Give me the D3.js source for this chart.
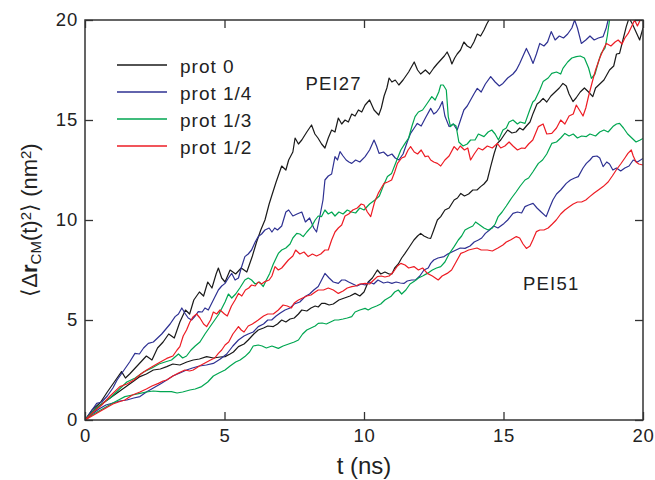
<!DOCTYPE html>
<html>
<head>
<meta charset="utf-8">
<script src="https://cdn.jsdelivr.net/npm/d3@7"></script>
<style>
  body { margin: 0; background: #fff; }
  svg text { font-family: "Liberation Sans", Arial, Helvetica, sans-serif; fill: #222; }
</style>
</head>
<body>
<div id="chart"></div>
<script>
// tick labels
const xTicks = [0, 5, 10, 15, 20];
const yTicks = [0, 5, 10, 15, 20];

// legend entries
const protLabels = ["prot 0", "prot 1/4", "prot 1/3", "prot 1/2"];
const protColors = ["#1a1a1a", "#2e3192", "#00a651", "#ed1c24"];

// [t (ns), <dr^2> (nm^2)], PEI27 group
const black27 = [[0,0],[0.25,0.5],[0.54,0.85],[0.8,1.4],[1.05,1.9],[1.31,2.42],[1.45,2.1],[1.6,2.3],[1.8,2.6],[2.0,2.9],[2.2,3.2],[2.4,3.0],[2.6,3.6],[2.8,3.9],[3.0,4.3],[3.2,4.1],[3.4,4.9],[3.6,5.5],[3.75,5.3],[3.9,6.0],[4.1,6.4],[4.25,6.2],[4.4,6.9],[4.55,6.6],[4.7,7.3],[4.78,7.6],[4.9,7.1],[5.02,6.9],[5.2,7.5],[5.4,7.3],[5.6,7.6],[5.8,7.4],[6.0,8.2],[6.15,8.9],[6.3,9.5],[6.45,10.0],[6.6,10.8],[6.69,11.2],[6.85,11.9],[7.05,12.7],[7.2,12.5],[7.3,13.0],[7.45,13.4],[7.53,14.1],[7.65,13.8],[7.77,14.0],[7.95,14.4],[8.12,14.75],[8.24,14.3],[8.35,14.1],[8.48,13.8],[8.6,13.6],[8.72,14.1],[8.84,14.5],[8.96,14.4],[9.08,15.1],[9.2,14.8],[9.32,15.0],[9.44,14.9],[9.56,15.3],[9.68,15.2],[9.8,15.5],[9.92,15.4],[10.04,15.75],[10.2,16.0],[10.36,15.5],[10.53,15.25],[10.62,15.6],[10.72,16.2],[10.82,16.6],[10.9,17.1],[11.0,16.9],[11.12,17.0],[11.25,16.75],[11.4,17.0],[11.6,17.4],[11.8,17.9],[11.92,17.5],[12.03,17.3],[12.2,17.5],[12.35,17.3],[12.5,17.6],[12.62,17.8],[12.75,18.0],[12.88,18.2],[12.98,18.4],[13.08,18.1],[13.15,17.8],[13.25,18.1],[13.34,18.3],[13.46,18.5],[13.58,18.9],[13.7,18.7],[13.82,18.6],[13.94,18.9],[14.06,19.3],[14.18,19.2],[14.3,19.5],[14.4,19.8],[14.48,20.0],[14.6,20.3]];
const blue27 = [[0,0],[0.2,0.4],[0.42,0.83],[0.6,0.9],[0.8,1.2],[1.0,1.6],[1.15,2.0],[1.3,2.3],[1.45,2.6],[1.6,2.9],[1.79,3.33],[1.95,3.3],[2.1,3.6],[2.27,3.83],[2.45,3.9],[2.6,4.1],[2.75,4.3],[2.87,4.5],[3.05,4.8],[3.23,5.17],[3.35,5.3],[3.47,5.6],[3.6,5.3],[3.7,5.1],[3.82,5.0],[3.95,5.2],[4.06,5.42],[4.2,5.4],[4.3,5.6],[4.42,5.5],[4.6,6.0],[4.78,6.5],[4.9,6.7],[5.02,6.83],[5.14,7.1],[5.26,7.33],[5.38,7.0],[5.5,7.1],[5.6,7.6],[5.73,8.17],[5.85,8.3],[5.97,8.5],[6.1,8.9],[6.21,9.17],[6.33,9.3],[6.45,9.5],[6.6,9.6],[6.7,9.4],[6.8,9.6],[6.9,9.5],[7.05,9.7],[7.2,10.4],[7.3,10.5],[7.45,10.2],[7.6,10.3],[7.77,10.4],[7.9,9.9],[8.05,10.1],[8.2,9.6],[8.3,9.4],[8.42,10.2],[8.53,11.0],[8.6,12.0],[8.72,12.2],[8.84,12.3],[8.96,13.17],[9.05,13.0],[9.14,13.42],[9.25,13.2],[9.36,13.0],[9.46,12.9],[9.56,12.83],[9.7,13.0],[9.85,12.9],[10.04,13.17],[10.2,13.5],[10.36,14.0],[10.45,13.7],[10.54,13.33],[10.7,13.4],[10.85,13.2],[11.0,13.3],[11.12,13.1],[11.25,13.0],[11.4,13.3],[11.55,13.9],[11.67,14.33],[11.8,14.6],[11.91,14.83],[12.05,14.7],[12.2,15.1],[12.39,15.58],[12.5,15.3],[12.6,15.4],[12.7,15.6],[12.81,15.92],[12.9,15.2],[13.05,14.67],[13.2,14.8],[13.34,14.5],[13.46,15.0],[13.58,15.5],[13.7,15.7],[13.82,16.0],[13.94,16.3],[14.06,16.58],[14.2,16.4],[14.35,16.8],[14.54,17.17],[14.7,16.9],[14.85,16.7],[14.98,16.83],[15.15,17.1],[15.34,17.3],[15.46,17.5],[15.58,17.83],[15.7,18.2],[15.82,18.58],[15.95,18.2],[16.06,17.83],[16.18,18.3],[16.3,18.83],[16.45,18.7],[16.58,18.9],[16.71,19.42],[16.85,19.0],[17.0,19.2],[17.15,19.1],[17.3,19.3],[17.45,19.6],[17.55,20.0],[17.65,19.6],[17.79,18.83],[17.95,19.0],[18.1,19.2],[18.25,19.0],[18.4,19.1],[18.57,19.17],[18.68,19.6],[18.75,20.0],[18.85,20.4]];
const green27 = [[0,0],[0.3,0.45],[0.6,0.8],[0.9,1.1],[1.2,1.5],[1.5,1.9],[1.8,2.1],[2.1,2.4],[2.4,2.6],[2.65,2.8],[2.87,2.9],[3.1,3.0],[3.35,3.3],[3.5,3.1],[3.64,3.2],[3.8,3.5],[3.95,3.7],[4.12,3.9],[4.3,4.3],[4.45,4.6],[4.6,4.9],[4.8,5.3],[5.02,5.9],[5.14,6.3],[5.26,6.1],[5.4,6.3],[5.55,6.6],[5.73,7.0],[5.85,7.1],[5.97,7.0],[6.1,6.8],[6.25,6.9],[6.39,6.67],[6.5,7.0],[6.62,7.33],[6.75,7.8],[6.93,8.33],[7.05,8.5],[7.2,8.6],[7.35,8.8],[7.45,9.1],[7.59,9.33],[7.7,9.3],[7.82,9.17],[7.95,9.4],[8.12,9.67],[8.25,10.0],[8.36,10.2],[8.48,10.17],[8.6,10.5],[8.72,10.3],[8.84,10.4],[8.96,10.2],[9.1,10.4],[9.25,10.3],[9.4,10.5],[9.55,10.4],[9.7,10.35],[9.85,10.6],[10.0,10.5],[10.2,10.8],[10.39,11.0],[10.55,11.2],[10.72,11.8],[10.84,12.17],[10.99,12.33],[11.15,12.9],[11.32,13.5],[11.47,13.83],[11.6,14.1],[11.72,14.7],[11.83,15.17],[11.95,15.4],[12.1,15.5],[12.25,15.8],[12.43,16.17],[12.55,16.0],[12.68,16.4],[12.75,16.75],[12.84,16.75],[12.95,16.5],[13.02,15.17],[13.1,14.67],[13.2,14.8],[13.3,14.7],[13.4,13.9],[13.55,13.7],[13.7,13.8],[13.82,14.0],[13.98,14.0],[14.1,14.3],[14.3,14.17],[14.45,14.4],[14.58,14.5],[14.7,14.3],[14.82,14.0],[14.98,14.5],[15.1,14.6],[15.2,14.9],[15.34,15.0],[15.5,14.8],[15.6,14.9],[15.77,14.83],[15.94,15.5],[16.05,15.9],[16.13,16.0],[16.3,16.5],[16.42,16.92],[16.6,17.1],[16.73,17.33],[16.9,17.4],[17.05,17.3],[17.13,17.58],[17.3,17.9],[17.45,18.1],[17.61,18.17],[17.75,18.2],[17.9,18.1],[18.05,17.6],[18.15,17.08],[18.28,17.3],[18.4,17.9],[18.5,18.33],[18.64,18.6],[18.72,19.2],[18.8,20.0],[18.9,20.5]];
const red27 = [[0,0],[0.3,0.4],[0.6,0.75],[0.9,1.2],[1.25,1.67],[1.5,1.8],[1.75,2.0],[2.0,2.3],[2.21,2.5],[2.45,2.7],[2.7,2.9],[2.93,3.08],[3.15,3.2],[3.3,3.5],[3.4,3.67],[3.52,4.2],[3.64,4.5],[3.76,4.9],[3.88,5.17],[4.0,5.3],[4.12,5.1],[4.25,4.8],[4.36,4.67],[4.5,5.0],[4.6,5.4],[4.72,5.3],[4.84,5.5],[5.0,5.3],[5.1,5.2],[5.25,5.7],[5.38,6.0],[5.5,6.33],[5.62,6.2],[5.75,6.5],[5.87,6.6],[5.97,6.75],[6.1,6.7],[6.21,6.9],[6.33,6.8],[6.45,6.92],[6.6,7.0],[6.7,7.2],[6.81,7.67],[6.93,7.5],[7.05,7.6],[7.17,7.8],[7.29,8.0],[7.45,8.2],[7.55,8.5],[7.7,8.3],[7.85,8.4],[8.0,8.17],[8.15,8.3],[8.3,8.2],[8.45,8.3],[8.6,8.5],[8.72,8.5],[8.84,9.0],[8.96,9.4],[9.08,9.6],[9.2,9.75],[9.32,10.2],[9.45,10.3],[9.6,10.5],[9.76,10.6],[9.9,10.8],[10.0,10.75],[10.12,10.4],[10.24,10.17],[10.38,10.9],[10.51,11.33],[10.62,11.6],[10.72,11.83],[10.85,11.9],[10.99,12.0],[11.1,12.4],[11.2,12.83],[11.35,13.1],[11.47,13.17],[11.58,13.5],[11.67,13.67],[11.8,13.4],[11.92,13.3],[12.05,13.5],[12.19,13.17],[12.3,13.2],[12.39,13.0],[12.5,12.9],[12.63,12.83],[12.75,12.7],[12.9,13.0],[13.05,13.2],[13.23,13.67],[13.35,13.5],[13.45,13.7],[13.6,13.5],[13.72,13.6],[13.82,13.0],[13.95,13.3],[14.1,13.6],[14.25,13.5],[14.42,13.7],[14.6,13.6],[14.78,13.83],[14.9,13.6],[15.05,13.7],[15.2,13.9],[15.34,13.7],[15.5,13.5],[15.65,13.6],[15.77,13.58],[15.9,13.8],[16.05,14.0],[16.25,14.67],[16.42,14.8],[16.55,14.3],[16.73,14.33],[16.9,14.6],[17.05,15.0],[17.2,14.8],[17.35,15.2],[17.5,15.3],[17.61,15.75],[17.72,15.5],[17.85,15.2],[17.95,15.6],[18.05,16.2],[18.2,17.0],[18.3,17.5],[18.45,18.1],[18.6,18.6],[18.69,18.83],[18.85,18.7],[19.0,18.9],[19.11,19.0],[19.25,18.8],[19.35,19.1],[19.47,19.33],[19.6,19.7],[19.7,20.0],[19.8,19.7],[19.9,20.0],[20.0,20.2]];

// PEI51 group
const black51 = [[0,0],[0.25,0.4],[0.5,0.7],[0.75,0.95],[1.0,1.2],[1.25,1.45],[1.5,1.7],[1.75,1.95],[1.97,2.17],[2.2,2.3],[2.45,2.5],[2.7,2.55],[2.93,2.67],[3.15,2.8],[3.4,2.75],[3.65,2.9],[3.88,3.0],[4.1,3.05],[4.36,3.17],[4.6,3.1],[4.85,3.15],[5.02,3.17],[5.2,3.3],[5.32,3.4],[5.5,3.67],[5.7,3.8],[5.85,4.0],[6.05,4.3],[6.21,4.5],[6.4,4.6],[6.55,4.7],[6.75,4.67],[6.9,4.8],[7.05,5.0],[7.2,4.9],[7.35,5.05],[7.5,5.1],[7.65,5.3],[7.77,5.5],[7.95,5.45],[8.1,5.6],[8.25,5.7],[8.36,5.65],[8.48,5.83],[8.6,5.83],[8.75,5.75],[8.9,5.8],[9.1,6.0],[9.3,6.1],[9.5,6.2],[9.68,6.33],[9.85,6.2],[10.0,6.4],[10.15,6.9],[10.3,7.1],[10.48,7.5],[10.6,7.3],[10.75,7.4],[10.9,7.3],[11.0,7.3],[11.1,7.6],[11.23,7.8],[11.35,8.1],[11.47,8.33],[11.6,8.6],[11.79,9.0],[11.92,9.2],[12.03,9.33],[12.15,9.2],[12.3,9.1],[12.39,9.08],[12.5,9.5],[12.63,10.0],[12.75,10.17],[12.9,10.5],[13.05,10.6],[13.23,11.0],[13.35,11.1],[13.47,11.33],[13.6,11.2],[13.75,11.3],[13.9,11.5],[14.05,11.5],[14.18,11.67],[14.3,11.8],[14.42,12.0],[14.54,12.67],[14.66,13.3],[14.78,13.83],[14.9,14.0],[15.02,14.25],[15.15,14.5],[15.3,14.35],[15.45,14.4],[15.58,14.6],[15.7,14.5],[15.82,14.7],[15.95,14.9],[16.06,15.33],[16.2,15.8],[16.3,15.9],[16.42,16.08],[16.55,15.9],[16.7,16.2],[16.85,16.4],[17.0,16.6],[17.13,16.83],[17.25,16.7],[17.35,16.3],[17.49,15.92],[17.6,16.1],[17.75,16.4],[17.9,16.6],[18.05,16.4],[18.2,16.17],[18.3,16.6],[18.45,16.8],[18.6,17.0],[18.8,17.5],[18.95,17.7],[19.05,18.3],[19.16,18.33],[19.28,19.0],[19.4,19.67],[19.5,20.1],[19.62,19.8],[19.75,19.4],[19.88,19.0],[20.0,19.6]];
const blue51 = [[0,0],[0.25,0.3],[0.5,0.55],[0.75,0.75],[1.0,0.85],[1.25,0.95],[1.5,1.0],[1.75,1.1],[1.97,1.17],[2.2,1.4],[2.45,1.6],[2.7,1.8],[2.93,2.0],[3.15,2.2],[3.4,2.35],[3.64,2.5],[3.85,2.6],[4.1,2.7],[4.35,2.75],[4.6,2.83],[4.85,3.05],[5.08,3.3],[5.3,3.7],[5.5,4.0],[5.7,4.2],[5.85,4.3],[6.03,4.4],[6.21,4.67],[6.4,4.8],[6.55,5.0],[6.69,5.0],[6.85,5.2],[7.0,5.35],[7.17,5.5],[7.35,5.6],[7.5,5.8],[7.7,5.9],[7.89,6.17],[8.05,6.3],[8.2,6.5],[8.36,6.67],[8.48,7.0],[8.6,7.33],[8.75,7.1],[8.9,6.9],[9.08,6.83],[9.2,7.0],[9.32,7.0],[9.45,6.9],[9.6,6.8],[9.75,6.7],[9.9,6.8],[10.04,6.75],[10.2,6.9],[10.35,6.8],[10.5,7.0],[10.7,6.85],[10.85,6.9],[11.0,6.83],[11.15,6.9],[11.3,6.85],[11.43,6.83],[11.55,6.95],[11.71,7.0],[11.85,7.0],[12.0,7.2],[12.15,7.5],[12.3,7.6],[12.39,7.83],[12.5,8.0],[12.65,8.1],[12.87,8.17],[13.0,8.3],[13.15,8.4],[13.3,8.5],[13.45,8.6],[13.62,8.58],[13.8,8.7],[13.95,8.9],[14.1,9.0],[14.22,9.1],[14.35,9.33],[14.5,9.5],[14.65,9.7],[14.8,9.6],[15.02,9.83],[15.15,10.0],[15.34,10.33],[15.5,10.4],[15.65,10.35],[15.77,10.67],[15.9,10.75],[16.06,10.83],[16.2,10.6],[16.35,10.4],[16.53,10.17],[16.65,10.6],[16.77,11.0],[16.9,11.3],[17.05,11.5],[17.25,11.83],[17.4,12.0],[17.55,12.1],[17.68,12.17],[17.85,12.6],[17.97,12.83],[18.1,13.0],[18.2,13.17],[18.35,13.2],[18.45,13.1],[18.57,12.67],[18.7,12.9],[18.8,12.8],[18.92,12.5],[19.05,12.6],[19.2,12.45],[19.35,12.6],[19.5,12.7],[19.65,13.0],[19.8,12.9],[20.0,13.08]];
const green51 = [[0,0],[0.25,0.25],[0.5,0.45],[0.75,0.65],[1.0,0.85],[1.2,1.0],[1.43,1.17],[1.7,1.25],[1.97,1.33],[2.2,1.4],[2.45,1.45],[2.7,1.42],[2.93,1.42],[3.1,1.42],[3.3,1.35],[3.5,1.4],[3.76,1.5],[3.95,1.55],[4.18,1.67],[4.4,1.9],[4.6,2.2],[4.8,2.35],[5.02,2.5],[5.2,2.7],[5.4,2.9],[5.56,3.0],[5.73,3.17],[5.9,3.4],[6.03,3.7],[6.21,3.75],[6.35,3.7],[6.5,3.6],[6.7,3.7],[6.93,3.58],[7.1,3.7],[7.3,3.8],[7.5,3.9],[7.65,4.0],[7.8,4.3],[7.95,4.5],[8.1,4.6],[8.25,4.7],[8.36,4.83],[8.5,4.85],[8.65,4.8],[8.8,4.9],[8.95,5.0],[9.08,5.0],[9.25,5.05],[9.4,5.1],[9.56,5.17],[9.68,5.4],[9.85,5.5],[10.04,5.58],[10.15,5.5],[10.27,5.6],[10.45,5.7],[10.6,5.8],[10.75,6.0],[10.96,6.17],[11.1,6.4],[11.23,6.5],[11.35,6.3],[11.5,6.5],[11.65,6.8],[11.79,6.92],[11.95,7.1],[12.1,7.2],[12.27,7.33],[12.45,7.5],[12.6,7.6],[12.75,7.67],[12.9,7.9],[13.05,8.3],[13.23,8.67],[13.38,9.0],[13.5,9.2],[13.62,9.5],[13.75,9.6],[13.9,9.7],[14.0,9.9],[14.15,9.75],[14.3,9.6],[14.45,9.5],[14.6,9.6],[14.7,9.8],[14.81,10.17],[14.95,10.4],[15.1,10.7],[15.29,11.1],[15.45,11.4],[15.6,11.7],[15.77,12.0],[15.9,12.1],[16.05,12.4],[16.25,12.83],[16.4,13.0],[16.55,13.3],[16.73,13.83],[16.9,13.9],[17.05,14.1],[17.2,14.33],[17.35,14.2],[17.5,14.3],[17.65,14.1],[17.8,14.2],[17.97,14.17],[18.1,14.3],[18.3,14.2],[18.45,14.4],[18.6,14.5],[18.75,14.4],[18.92,14.67],[19.05,14.8],[19.16,14.83],[19.3,14.6],[19.45,14.3],[19.6,14.1],[19.75,13.9],[19.9,14.0],[20.0,14.08]];
const red51 = [[0,0],[0.25,0.2],[0.5,0.4],[0.75,0.6],[1.0,0.8],[1.2,0.9],[1.43,1.0],[1.7,1.25],[1.97,1.4],[2.2,1.55],[2.4,1.7],[2.63,1.83],[2.8,1.95],[2.93,2.0],[3.15,2.2],[3.35,2.35],[3.58,2.5],[3.75,2.45],[3.88,2.5],[4.1,2.7],[4.3,2.85],[4.5,3.0],[4.65,3.1],[4.78,3.33],[4.9,3.5],[5.02,3.75],[5.15,3.9],[5.3,4.3],[5.5,4.67],[5.6,4.5],[5.7,4.4],[5.85,4.7],[6.0,4.8],[6.21,5.0],[6.4,5.2],[6.55,5.3],[6.75,5.3],[6.93,5.5],[7.1,5.75],[7.25,5.7],[7.4,5.6],[7.5,5.85],[7.65,6.0],[7.8,6.1],[7.95,6.2],[8.1,6.25],[8.25,6.4],[8.36,6.5],[8.55,6.5],[8.72,6.6],[8.9,6.5],[9.08,6.33],[9.25,6.45],[9.4,6.6],[9.56,6.67],[9.7,6.7],[9.85,6.8],[10.04,6.83],[10.2,6.8],[10.35,7.0],[10.48,7.17],[10.62,7.2],[10.75,7.15],[10.9,7.2],[11.05,7.4],[11.2,7.7],[11.32,7.83],[11.47,7.75],[11.6,7.6],[11.79,7.67],[11.95,7.5],[12.1,7.6],[12.27,7.33],[12.45,7.2],[12.66,7.0],[12.8,7.2],[12.98,7.33],[13.14,7.5],[13.3,7.9],[13.47,8.33],[13.6,8.4],[13.75,8.5],[13.9,8.55],[14.05,8.6],[14.2,8.5],[14.42,8.5],[14.6,8.45],[14.8,8.6],[14.98,8.75],[15.1,8.9],[15.25,9.0],[15.46,9.17],[15.58,9.1],[15.7,8.8],[15.82,8.58],[15.95,8.7],[16.05,9.0],[16.18,9.42],[16.3,9.5],[16.45,9.5],[16.6,9.6],[16.75,9.8],[16.89,10.0],[17.05,10.3],[17.2,10.5],[17.37,10.67],[17.5,10.8],[17.65,10.9],[17.8,10.9],[17.95,11.0],[18.09,11.17],[18.25,11.35],[18.4,11.5],[18.57,11.67],[18.75,11.9],[18.9,12.2],[19.04,12.5],[19.2,12.8],[19.35,13.1],[19.46,13.33],[19.58,13.5],[19.65,13.2],[19.75,12.9],[19.85,12.8],[20.0,12.75]];

const series = [
  { data: black51, color: protColors[0] },
  { data: black27, color: protColors[0] },
  { data: blue51, color: protColors[1] },
  { data: blue27, color: protColors[1] },
  { data: green51, color: protColors[2] },
  { data: green27, color: protColors[2] },
  { data: red51, color: protColors[3] },
  { data: red27, color: protColors[3] }
];

const margin = { top: 20, right: 12, bottom: 60, left: 85 },
  width = 655 - margin.left - margin.right,
  height = 480 - margin.top - margin.bottom;

const svg = d3.select("#chart")
  .append("svg")
  .attr("width", 655)
  .attr("height", 480);

const g = svg.append("g")
  .attr("transform", "translate(" + margin.left + "," + margin.top + ")");

const x = d3.scaleLinear().domain([0, 20]).range([0, width]);
const y = d3.scaleLinear().domain([0, 20]).range([height, 0]);

g.append("clipPath").attr("id", "plotclip")
  .append("rect").attr("width", width).attr("height", height);

// curves
const line = d3.line()
  .x(function (d) { return x(d[0]); })
  .y(function (d) { return y(d[1]); });

g.append("g").attr("clip-path", "url(#plotclip)")
  .selectAll("path")
  .data(series)
  .enter().append("path")
  .attr("fill", "none")
  .attr("stroke", function (d) { return d.color; })
  .attr("stroke-width", 1.2)
  .attr("stroke-linejoin", "round")
  .attr("d", function (d) { return line(d.data); });

// axes, ticks pointing inward on all four sides
function styleAxis(sel) {
  sel.select(".domain").remove();
  sel.selectAll(".tick line").attr("stroke", "#333").attr("stroke-width", 1.3);
  sel.selectAll(".tick text")
    .attr("fill", "#222")
    .style("font-size", "18.5px")
    .style("letter-spacing", "0.8px");
}
g.append("g")
  .attr("transform", "translate(0," + height + ")")
  .call(d3.axisBottom(x).tickValues(xTicks).tickSize(-8).tickPadding(9))
  .call(styleAxis);
g.append("g")
  .call(d3.axisLeft(y).tickValues(yTicks).tickSize(-8).tickPadding(7))
  .call(styleAxis);
g.append("g")
  .call(d3.axisTop(x).tickValues(xTicks).tickSize(-8).tickFormat(""))
  .call(styleAxis);
g.append("g")
  .attr("transform", "translate(" + width + ",0)")
  .call(d3.axisRight(y).tickValues(yTicks).tickSize(-8).tickFormat(""))
  .call(styleAxis);

g.append("rect")
  .attr("width", width).attr("height", height)
  .attr("fill", "none").attr("stroke", "#333").attr("stroke-width", 1.5);

// legend
const legend = g.selectAll(".legend")
  .data(protLabels)
  .enter().append("g")
  .attr("transform", function (d, i) { return "translate(32," + (45 + i * 27) + ")"; });
legend.append("line")
  .attr("x1", 0).attr("x2", 50)
  .attr("stroke", function (d, i) { return protColors[i]; })
  .attr("stroke-width", 1.5);
legend.append("text")
  .attr("x", 63).attr("y", 7.5)
  .style("font-size", "19px")
  .style("letter-spacing", "1px")
  .text(function (d) { return d; });

// group labels
g.append("text").attr("x", x(7.9)).attr("y", y(16.5))
  .style("font-size", "18.5px").style("letter-spacing", "1.2px").text("PEI27");
g.append("text").attr("x", x(15.7)).attr("y", y(6.5))
  .style("font-size", "18.5px").style("letter-spacing", "1.2px").text("PEI51");

// axis titles
svg.append("text")
  .attr("x", margin.left + width / 2).attr("y", 474)
  .attr("text-anchor", "middle")
  .style("font-size", "24px")
  .text("t (ns)");

const yl = svg.append("text")
  .attr("transform", "translate(37," + (margin.top + height / 2) + ") rotate(-90)")
  .attr("text-anchor", "middle")
  .style("font-size", "22px");
yl.append("tspan").text("\u27E8\u0394");
yl.append("tspan").style("font-weight", "bold").text("r");
yl.append("tspan").attr("baseline-shift", "-25%").style("font-size", "15px").text("CM");
yl.append("tspan").text("(t)");
yl.append("tspan").attr("baseline-shift", "40%").style("font-size", "15px").text("2");
yl.append("tspan").text("\u27E9 (nm");
yl.append("tspan").attr("baseline-shift", "40%").style("font-size", "15px").text("2");
yl.append("tspan").text(")");
</script>
</body>
</html>
